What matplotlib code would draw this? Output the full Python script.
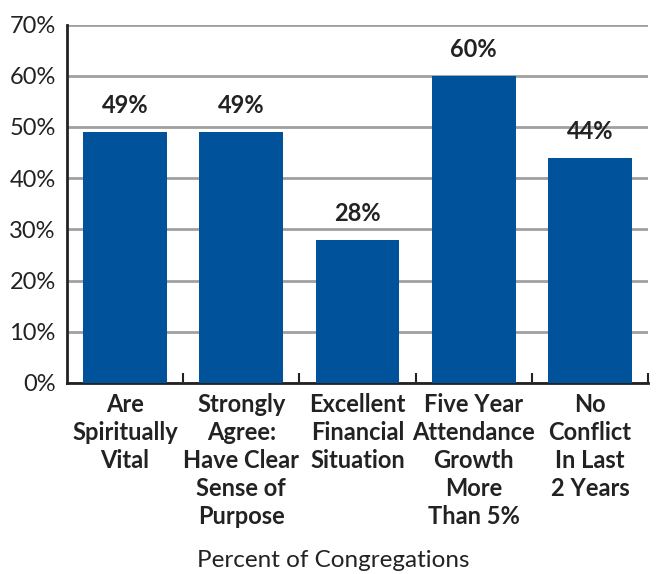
import matplotlib
matplotlib.use("Agg")
import matplotlib.pyplot as plt
import numpy as np

categories = [
    "Are\nSpiritually\nVital",
    "Strongly\nAgree:\nHave Clear\nSense of\nPurpose",
    "Excellent\nFinancial\nSituation",
    "Five Year\nAttendance\nGrowth\nMore\nThan 5%",
    "No\nConflict\nIn Last\n2 Years",
]
values = [49, 49, 28, 60, 44]
yticks = [0, 10, 20, 30, 40, 50, 60, 70]

plt.rcParams["font.family"] = ["Lato", "DejaVu Sans"]

fig = plt.figure(figsize=(6.6, 5.74), dpi=100)
ax = fig.add_axes([0.1015, 0.3328, 0.8805, 0.6245])

x = np.arange(len(values))
ax.bar(x, values, width=0.72, color="#00529b", zorder=3)

for xi, v in zip(x, values):
    ax.text(xi, v + 2.9, f"{v}%", ha="center", va="bottom",
            fontsize=17, fontweight="bold", color="#222222")

ax.set_xlim(-0.5, len(values) - 0.5)
ax.set_ylim(0, 70)
ax.set_yticks(yticks)
ax.set_yticklabels([f"{t}%" for t in yticks], fontsize=17, color="#222222")
ax.yaxis.grid(True, color="#a0a0a0", linewidth=2, zorder=0)
ax.tick_params(axis="y", length=0, pad=8)

# category labels sit between boundary ticks
ax.set_xticks(x)
ax.set_xticklabels(categories, fontsize=17, fontweight="bold",
                   color="#222222", linespacing=1.27)
ax.set_xticks(np.arange(len(values)) + 0.5, minor=True)
ax.tick_params(axis="x", which="major", length=0, pad=7)
ax.tick_params(axis="x", which="minor", direction="in", length=7,
               width=1.5, color="#222222")

for side in ["top", "right"]:
    ax.spines[side].set_visible(False)
ax.spines["left"].set_linewidth(2)
ax.spines["bottom"].set_linewidth(2)
ax.spines["left"].set_color("#222222")
ax.spines["bottom"].set_color("#222222")

fig.text(0.505, 0.024, "Percent of Congregations", ha="center", va="center",
         fontsize=17.5, color="#222222")

fig.savefig("out.png", dpi=100)
